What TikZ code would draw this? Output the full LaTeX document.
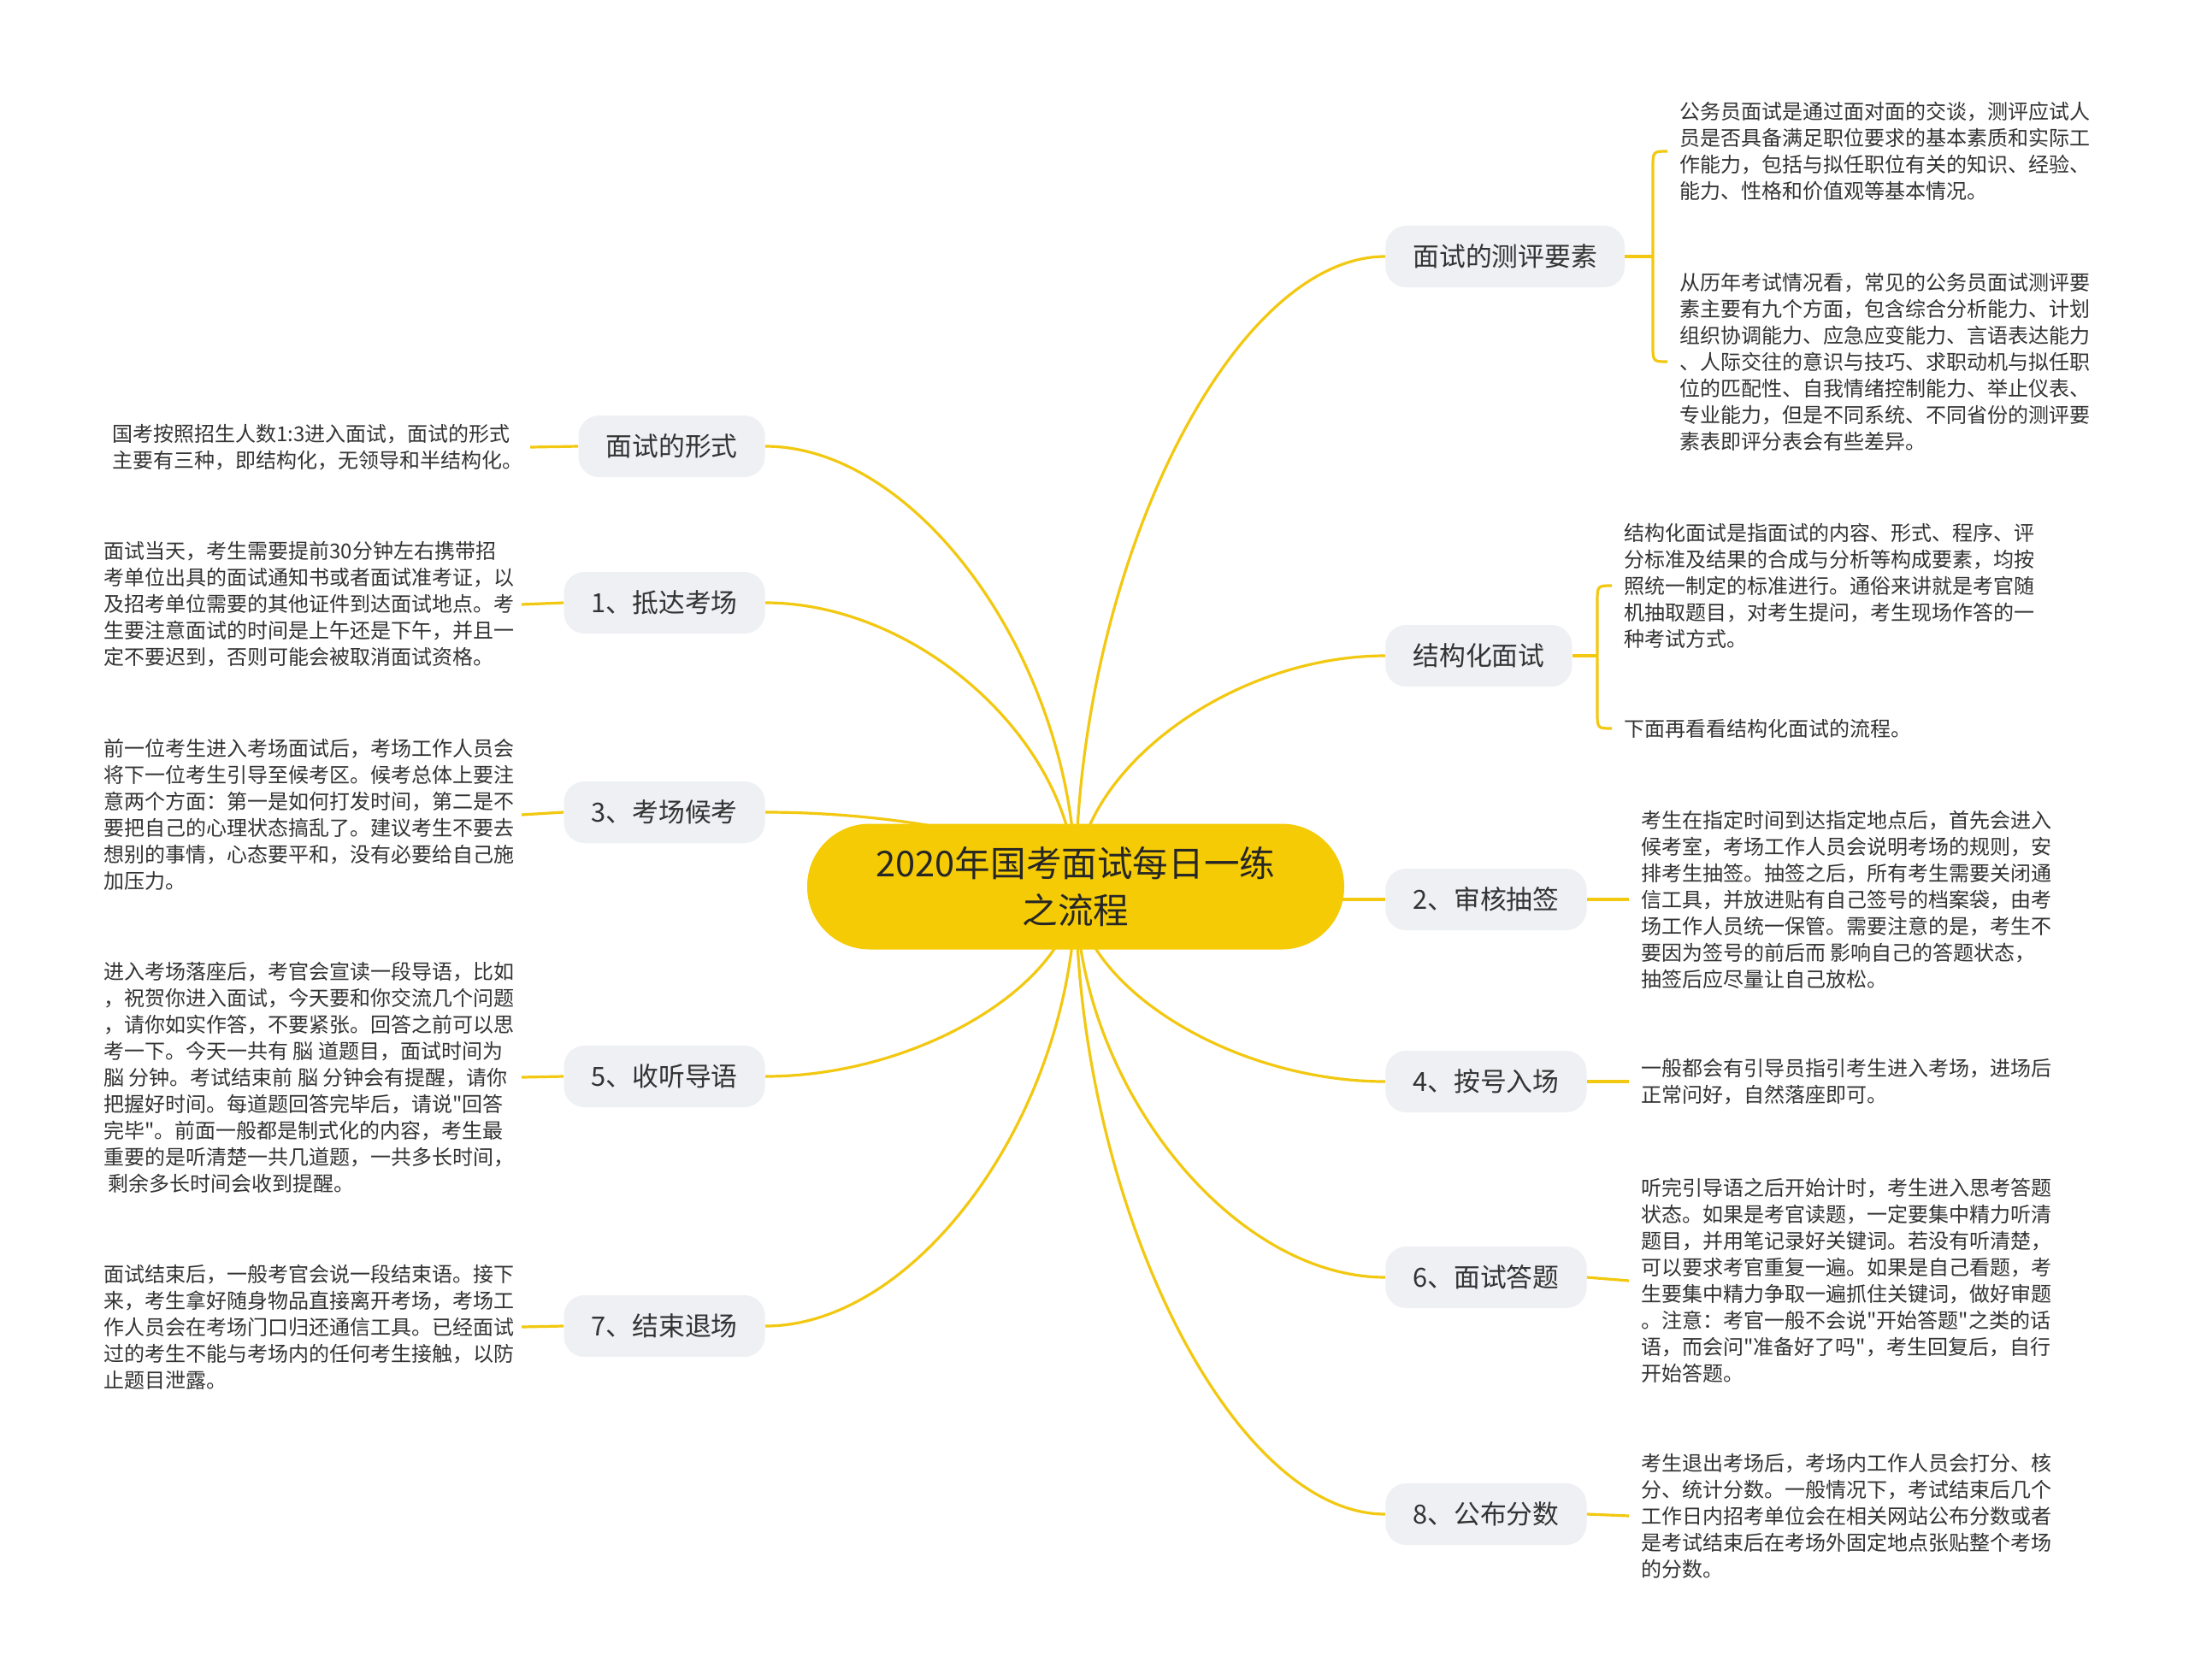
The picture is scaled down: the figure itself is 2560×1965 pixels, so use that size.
\documentclass[tikz,border=0pt]{standalone}
\usepackage{fontspec}
\setmainfont{Noto Sans CJK SC}[Ligatures=TeXOff]
\usetikzlibrary{calc}
\pgfdeclarelayer{background}
\pgfdeclarelayer{canvas}
\pgfsetlayers{canvas,background,main}
\definecolor{ylw}{HTML}{F2C811}
\definecolor{cfill}{HTML}{F5CB05}
\definecolor{bfill}{HTML}{EEF0F3}
\definecolor{txt}{HTML}{333333}
\tikzset{
  conn/.style={draw=ylw, line width=1.6pt},
  mm/.style={to path={.. controls ($(\tikztostart)!0.5!(\tikztostart|-\tikztotarget)$) and ($(\tikztotarget)!0.5!(\tikztostart|-\tikztotarget)$) .. (\tikztotarget)}},
  centernode/.style={fill=cfill, rounded corners=36.5pt, minimum width=314pt, minimum height=73.5pt, align=center, text=black!85, font=\fontsize{20.8pt}{27.7pt}\selectfont},
  branch/.style={fill=bfill, rounded corners=12pt, minimum height=36pt, inner xsep=16pt, inner ysep=0pt, text=txt, font=\fontsize{15.4pt}{18pt}\selectfont},
  rleaf/.style={anchor=west, align=left, inner sep=0pt, inner xsep=7pt, text=txt, font=\fontsize{12pt}{15.5pt}\selectfont},
  lleaf/.style={anchor=east, align=left, inner sep=0pt, inner xsep=4pt, text=txt, font=\fontsize{12pt}{15.5pt}\selectfont}
}
\begin{document}
\begin{tikzpicture}[x=0.5pt, y=-0.5pt]
\begin{pgfonlayer}{canvas}
\path[use as bounding box, fill=white] (0,0) rectangle (2560,1965);
\end{pgfonlayer}

% centre
\node[centernode] (C) at (1258,1037) {2020年国考面试每日一练\\之流程};
\coordinate (cc) at (1258,1037);

% right branches
\node[branch, anchor=west] (b1) at (1620,300) {面试的测评要素};
\node[branch, anchor=west] (b2) at (1620,767) {结构化面试};
\node[branch, anchor=west] (b3) at (1620,1052) {2、审核抽签};
\node[branch, anchor=west] (b4) at (1620,1265) {4、按号入场};
\node[branch, anchor=west] (b5) at (1620,1494) {6、面试答题};
\node[branch, anchor=west] (b6) at (1620,1771) {8、公布分数};

% left branches
\node[branch, anchor=east] (l1) at (895,522) {面试的形式};
\node[branch, anchor=east] (l2) at (895,705) {1、抵达考场};
\node[branch, anchor=east] (l3) at (895,950) {3、考场候考};
\node[branch, anchor=east] (l4) at (895,1259) {5、收听导语};
\node[branch, anchor=east] (l5) at (895,1551) {7、结束退场};

% right leaves
\node[rleaf] (r1a) at (1950,177) {公务员面试是通过面对面的交谈，测评应试人\\员是否具备满足职位要求的基本素质和实际工\\作能力，包括与拟任职位有关的知识、经验、\\能力、性格和价值观等基本情况。};
\node[rleaf] (r1b) at (1950,423) {从历年考试情况看，常见的公务员面试测评要\\素主要有九个方面，包含综合分析能力、计划\\组织协调能力、应急应变能力、言语表达能力\\、人际交往的意识与技巧、求职动机与拟任职\\位的匹配性、自我情绪控制能力、举止仪表、\\专业能力，但是不同系统、不同省份的测评要\\素表即评分表会有些差异。};
\node[rleaf] (r2a) at (1885,685) {结构化面试是指面试的内容、形式、程序、评\\分标准及结果的合成与分析等构成要素，均按\\照统一制定的标准进行。通俗来讲就是考官随\\机抽取题目，对考生提问，考生现场作答的一\\种考试方式。};
\node[rleaf] (r2b) at (1885,852) {下面再看看结构化面试的流程。};
\node[rleaf] (r3) at (1905,1052) {考生在指定时间到达指定地点后，首先会进入\\候考室，考场工作人员会说明考场的规则，安\\排考生抽签。抽签之后，所有考生需要关闭通\\信工具，并放进贴有自己签号的档案袋，由考\\场工作人员统一保管。需要注意的是，考生不\\要因为签号的前后而 影响自己的答题状态，\\抽签后应尽量让自己放松。};
\node[rleaf] (r4) at (1905,1265) {一般都会有引导员指引考生进入考场，进场后\\正常问好，自然落座即可。};
\node[rleaf] (r5) at (1905,1498) {听完引导语之后开始计时，考生进入思考答题\\状态。如果是考官读题，一定要集中精力听清\\题目，并用笔记录好关键词。若没有听清楚，\\可以要求考官重复一遍。如果是自己看题，考\\生要集中精力争取一遍抓住关键词，做好审题\\。注意：考官一般不会说"开始答题"之类的话\\语，而会问"准备好了吗"，考生回复后，自行\\开始答题。};
\node[rleaf] (r6) at (1905,1773) {考生退出考场后，考场内工作人员会打分、核\\分、统计分数。一般情况下，考试结束后几个\\工作日内招考单位会在相关网站公布分数或者\\是考试结束后在考场外固定地点张贴整个考场\\的分数。};

% left leaves
\node[lleaf] (m1) at (620,523) {国考按照招生人数1:3进入面试，面试的形式\\主要有三种，即结构化，无领导和半结构化。};
\node[lleaf] (m2) at (610,707) {面试当天，考生需要提前30分钟左右携带招\\考单位出具的面试通知书或者面试准考证，以\\及招考单位需要的其他证件到达面试地点。考\\生要注意面试的时间是上午还是下午，并且一\\定不要迟到，否则可能会被取消面试资格。};
\node[lleaf] (m3) at (610,953) {前一位考生进入考场面试后，考场工作人员会\\将下一位考生引导至候考区。候考总体上要注\\意两个方面：第一是如何打发时间，第二是不\\要把自己的心理状态搞乱了。建议考生不要去\\想别的事情，心态要平和，没有必要给自己施\\加压力。};
\node[lleaf] (m4) at (610,1260) {进入考场落座后，考官会宣读一段导语，比如\\，祝贺你进入面试，今天要和你交流几个问题\\，请你如实作答，不要紧张。回答之前可以思\\考一下。今天一共有 脳 道题目，面试时间为\\脳 分钟。考试结束前 脳 分钟会有提醒，请你\\把握好时间。每道题回答完毕后，请说"回答\\完毕"。前面一般都是制式化的内容，考生最\\重要的是听清楚一共几道题，一共多长时间，\\\ 剩余多长时间会收到提醒。};
\node[lleaf] (m5) at (610,1552) {面试结束后，一般考官会说一段结束语。接下\\来，考生拿好随身物品直接离开考场，考场工\\作人员会在考场门口归还通信工具。已经面试\\过的考生不能与考场内的任何考生接触，以防\\止题目泄露。};

\begin{pgfonlayer}{background}
% centre to branches
\foreach \t in {b1.west,b2.west,b4.west,b5.west,b6.west,l1.east,l2.east,l3.east,l4.east,l5.east}
  \draw[conn] (cc) to[mm] (\t);
\draw[conn] (cc |- b3.west) -- (b3.west);
\end{pgfonlayer}

% branch to leaves
\coordinate (k1) at (1933,300);
\draw[conn] (b1.east) -- (k1);
\draw[conn] (r1a.west) .. controls (k1 |- r1a.west) .. ($(k1 |- r1a.west)+(0,20)$) -- ($(k1 |- r1b.west)+(0,-20)$) .. controls (k1 |- r1b.west) .. (r1b.west);
\coordinate (k2) at (1868,767);
\draw[conn] (b2.east) -- (k2);
\draw[conn] (r2a.west) .. controls (k2 |- r2a.west) .. ($(k2 |- r2a.west)+(0,20)$) -- ($(k2 |- r2b.west)+(0,-20)$) .. controls (k2 |- r2b.west) .. (r2b.west);
\draw[conn] (b3.east) -- (r3.west);
\draw[conn] (b4.east) -- (r4.west);
\draw[conn] (b5.east) -- (r5.west);
\draw[conn] (b6.east) -- (r6.west);
\draw[conn] (l1.west) -- (m1.east);
\draw[conn] (l2.west) -- (m2.east);
\draw[conn] (l3.west) -- (m3.east);
\draw[conn] (l4.west) -- (m4.east);
\draw[conn] (l5.west) -- (m5.east);
\end{tikzpicture}
\end{document}
